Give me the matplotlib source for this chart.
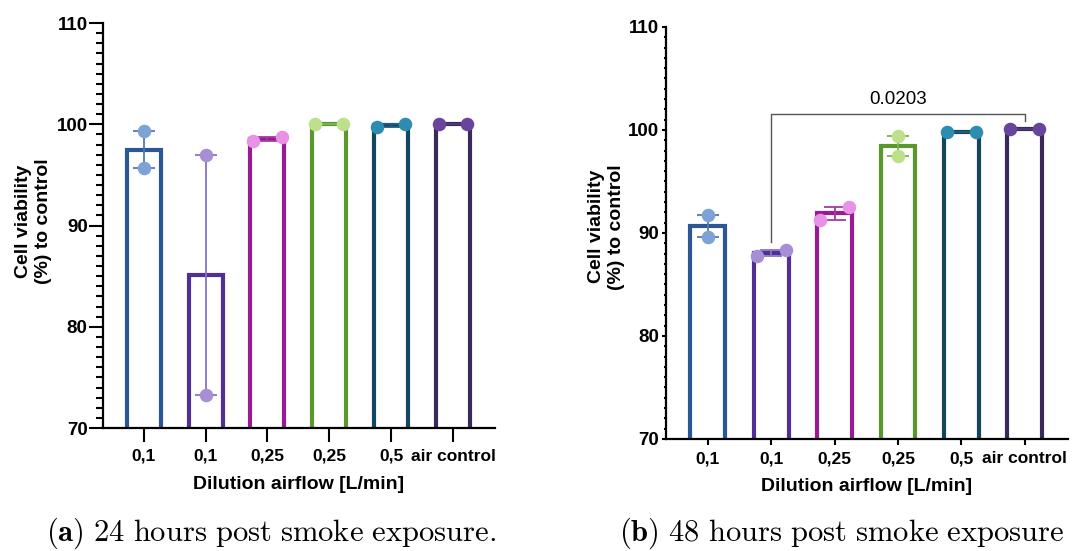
import matplotlib.pyplot as plt
from matplotlib.ticker import MultipleLocator
import numpy as np

plt.rcParams['font.family'] = ['Liberation Sans', 'DejaVu Sans']
plt.rcParams['font.weight'] = 'bold'
plt.rcParams['mathtext.fontset'] = 'cm'

# data (two replicates per group)
groups = ["0,1", "0,1", "0,25", "0,25", "0,5", "air control"]
rep_24h = [[99.3, 95.7], [97.0, 73.3], [98.35, 98.75], [100.0, 100.05], [99.75, 100.05], [100.0, 100.0]]
rep_48h = [[91.75, 89.65], [87.8, 88.3], [91.3, 92.5], [99.45, 97.5], [99.85, 99.85], [100.05, 100.05]]
p_value = "0.0203"
p_pair = (1, 5)

edge_cols = ["#2C5796", "#512F95", "#991A92", "#5A972D", "#13465F", "#392A57"]
dot_cols = ["#7DA2D6", "#A68FD5", "#E991E6", "#BCE08B", "#2C8CB2", "#68459A"]
err_cols = ["#5577B0", "#8672C2", "#A23CA0", "#7DB24E", "#1F5F7E", "#4E3B78"]


def draw_panel(ax, reps, big_ticks):
    x = np.arange(len(groups))
    vals = np.array(reps)
    means = vals.mean(axis=1)
    sems = np.abs(vals[:, 0] - vals[:, 1]) / 2
    ax.bar(x, means, width=0.55, color="white", edgecolor=edge_cols, linewidth=3, zorder=1)
    for i in x:
        ax.errorbar(i, means[i], yerr=sems[i], color=err_cols[i], elinewidth=1.3,
                    capsize=8, capthick=1.3, zorder=2)
        # replicates that nearly overlap are spread sideways
        off = 0.23 if abs(vals[i, 0] - vals[i, 1]) < 1.5 else 0.0
        ax.scatter([i - off, i + off], vals[i], s=95, color=dot_cols[i], lw=0, zorder=3)

    ax.set_ylim(70, 110)
    ax.set_xlim(-0.66, len(groups) - 1 + 0.68)
    ax.set_yticks([70, 80, 90, 100, 110])
    ax.yaxis.set_minor_locator(MultipleLocator(1))
    ax.set_xticks(x)
    ax.set_xticklabels(groups)
    for s in ["top", "right"]:
        ax.spines[s].set_visible(False)
    for s in ["left", "bottom"]:
        ax.spines[s].set_linewidth(1.6)
    if big_ticks:
        ax.tick_params(axis="y", which="major", length=10, width=1.5, pad=1, labelsize=13.5)
        ax.tick_params(axis="y", which="minor", length=5, width=1.5)
        ax.tick_params(axis="x", length=10, width=1.5, pad=5, labelsize=12.5)
        lp = 9
    else:
        ax.tick_params(axis="y", which="major", length=3, width=1.5, pad=2, labelsize=13.5)
        ax.tick_params(axis="y", which="minor", length=1.5, width=1.5)
        ax.tick_params(axis="x", length=4, width=1.5, pad=5, labelsize=12.5)
        lp = 8
    ax.set_xlabel("Dilution airflow [L/min]", fontsize=14, fontweight="bold", labelpad=lp)
    ax.set_ylabel("Cell viability\n(%) to control", fontsize=14, fontweight="bold")


fig = plt.figure(figsize=(10.86, 5.51), dpi=100)
ax1 = fig.add_axes([0.0948, 0.2232, 0.361, 0.735])
ax2 = fig.add_axes([0.6133, 0.2033, 0.3699, 0.7477])

draw_panel(ax1, rep_24h, True)
draw_panel(ax2, rep_48h, False)
ax1.yaxis.set_label_coords(-0.13, 0.51)
ax2.yaxis.set_label_coords(-0.102, 0.515)

# significance bracket
m48 = np.array(rep_48h).mean(axis=1)
a, b = p_pair
top = 101.6
ax2.plot([a, a, b, b], [m48[a] + 1.1, top, top, m48[b] + 0.8], color="#555555", lw=1, zorder=4)
ax2.text((a + b) / 2, top + 0.5, p_value, ha="center", va="bottom", fontsize=13.5, fontweight="normal")

fig.text(0.25, 0.018, r"$\mathbf{(a)}\ \mathrm{24\ hours\ post\ smoke\ exposure.}$",
         ha="center", va="baseline", fontsize=22)
fig.text(0.775, 0.018, r"$\mathbf{(b)}\ \mathrm{48\ hours\ post\ smoke\ exposure}$",
         ha="center", va="baseline", fontsize=22)

fig.savefig("out.png", dpi=100)
